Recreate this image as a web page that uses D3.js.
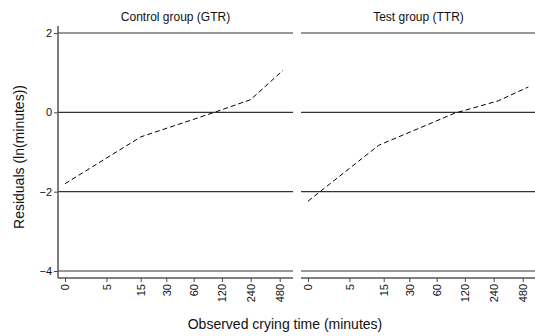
<!DOCTYPE html>
<meta charset="utf-8">
<style>
    body {
        margin: 0;
        background: #fff;
    }
    text {
        font-family: "Liberation Sans", Arial, sans-serif;
        fill: #111;
    }
</style>

<body>
    <script src="https://d3js.org/d3.v7.min.js"></script>
    <script>
        // panels
        var panels = ["Control group (GTR)", "Test group (TTR)"];

        // dashed residual curves, x in minutes
        var gtrMinutes = [0, 15, 100, 240, 520],
            gtrResid = [-1.80, -0.62, 0.0, 0.32, 1.06];
        var ttrMinutes = [0, 13, 94, 268, 549],
            ttrResid = [-2.24, -0.83, -0.02, 0.29, 0.64];

        var xTicks = [0, 5, 15, 30, 60, 120, 240, 480],
            yTicks = [2, 0, -2, -4];

        var width = 535,
            height = 336,
            plotTop = 26,
            plotBottom = 278,
            panelW = 235,
            panelX = [58, 301];

        var svg = d3.select("body").append("svg")
            .attr("width", width)
            .attr("height", height);

        var y = d3.scaleLinear()
            .domain([2, -4])
            .range([33, 271]);

        var series = [
            { title: panels[0], mins: gtrMinutes, vals: gtrResid },
            { title: panels[1], mins: ttrMinutes, vals: ttrResid }
        ];

        series.forEach(function (s, i) {
            var x0 = panelX[i];
            var x = d3.scaleSymlog()
                .constant(3)
                .domain([0, 480])
                .range([x0 + 7, x0 + 221.7]);

            var g = svg.append("g");

            // panel title
            g.append("text")
                .attr("x", x0 + panelW / 2)
                .attr("y", 21)
                .attr("text-anchor", "middle")
                .style("font-size", "12px")
                .text(s.title);

            // horizontal reference lines
            g.selectAll(".grid")
                .data(yTicks)
                .enter().append("line")
                .attr("x1", x0)
                .attr("x2", x0 + panelW)
                .attr("y1", function (d) { return y(d); })
                .attr("y2", function (d) { return y(d); })
                .attr("stroke", "#333")
                .attr("stroke-width", 1.2);

            // bottom axis
            var xAxis = d3.axisBottom(x)
                .tickValues(xTicks)
                .tickSize(4)
                .tickFormat(d3.format("d"));

            var ax = g.append("g")
                .attr("transform", "translate(0," + plotBottom + ")")
                .call(xAxis);
            ax.select(".domain").remove();
            ax.selectAll("line").attr("stroke", "#444");
            ax.append("line")
                .attr("x1", x0)
                .attr("x2", x0 + panelW)
                .attr("stroke", "#555")
                .attr("stroke-width", 1.5);
            ax.selectAll("text")
                .attr("transform", "rotate(-90)")
                .attr("x", -6)
                .attr("y", 0)
                .attr("dy", "0.35em")
                .attr("text-anchor", "end")
                .style("font-size", "11px")
                .style("font-family", "Liberation Sans, Arial, sans-serif")
                .attr("fill", "#111");

            // dashed curve
            var pts = s.mins.map(function (m, j) { return [m, s.vals[j]]; });
            g.append("path")
                .datum(pts)
                .attr("fill", "none")
                .attr("stroke", "#000")
                .attr("stroke-width", 1)
                .attr("stroke-dasharray", "5,3")
                .attr("d", d3.line()
                    .x(function (d) { return x(d[0]); })
                    .y(function (d) { return y(d[1]); }));
        });

        // left y axis
        var yAxis = d3.axisLeft(y)
            .tickValues(yTicks)
            .tickSize(4)
            .tickFormat(d3.format("d"));
        var ay = svg.append("g")
            .attr("transform", "translate(" + panelX[0] + ",0)")
            .call(yAxis);
        ay.select(".domain").remove();
        ay.selectAll("line").attr("stroke", "#444");
        ay.append("line")
            .attr("y1", plotTop)
            .attr("y2", plotBottom)
            .attr("stroke", "#555")
            .attr("stroke-width", 1.5);
        ay.selectAll("text")
            .attr("x", -6)
            .style("font-size", "11px")
            .style("font-family", "Liberation Sans, Arial, sans-serif")
            .attr("fill", "#111");

        // axis titles
        svg.append("text")
            .attr("x", 285)
            .attr("y", 329)
            .attr("text-anchor", "middle")
            .style("font-size", "14px")
            .text("Observed crying time (minutes)");

        svg.append("text")
            .attr("transform", "translate(24,157) rotate(-90)")
            .attr("text-anchor", "middle")
            .style("font-size", "14px")
            .text("Residuals (ln(minutes))");
    </script>
</body>
